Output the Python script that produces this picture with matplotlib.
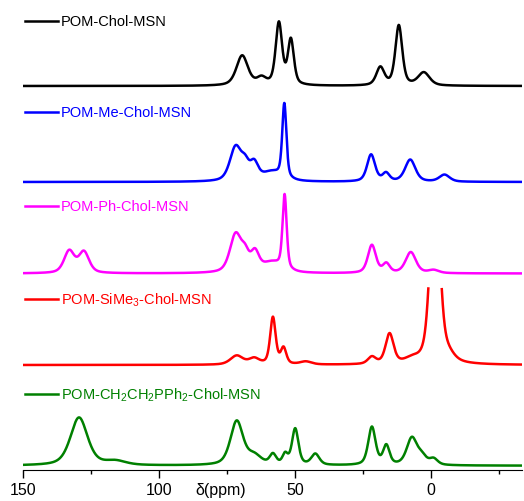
import numpy as np
import matplotlib
matplotlib.use("Agg")
import matplotlib.pyplot as plt

plt.rcParams['font.family'] = ['Liberation Sans', 'DejaVu Sans']
plt.rcParams['mathtext.fontset'] = 'custom'
plt.rcParams['mathtext.rm'] = 'Liberation Sans'
plt.rcParams['mathtext.it'] = 'Liberation Sans:italic'

# sample names (top to bottom)
names = ['POM-Chol-MSN',
         'POM-Me-Chol-MSN',
         'POM-Ph-Chol-MSN',
         'POM-SiMe$_3$-Chol-MSN',
         'POM-CH$_2$CH$_2$PPh$_2$-Chol-MSN']
colors = ['black', '#0000ff', '#ff00ff', '#ff0000', '#008000']

# peak lists: shift (ppm), height, width (ppm)
black_pos = [69.4, 62.3, 55.9, 51.5, 18.6, 11.8, 2.6]
black_h = [30, 7, 62, 45, 18, 60, 13]
black_w = [5.0, 4.0, 2.8, 2.6, 3.5, 3.0, 5.0]

blue_pos = [71.8, 68.3, 65.0, 58.5, 53.9, 22.0, 16.5, 7.6, -5.0]
blue_h = [34, 14, 16, 9, 74, 27, 8, 22, 7]
blue_w = [5.0, 3.5, 3.5, 9.0, 1.8, 3.5, 3.0, 4.5, 4.5]

pink_pos = [133.0, 127.6, 71.8, 68.3, 64.7, 58.5, 53.8, 21.7, 16.4, 7.4, -1.0]
pink_h = [22, 21, 38, 15, 18, 10, 74, 28, 9, 21, 3]
pink_w = [4.5, 4.5, 5.0, 3.5, 3.5, 9.0, 1.8, 3.5, 3.0, 4.5, 4.5]

red_pos = [71.4, 65.0, 58.1, 54.2, 46.0, 21.7, 15.2, 7.0, -1.5, -6.5]
red_h = [9, 6, 47, 16, 3, 7, 30, 4, 200, 6]
red_w = [5.5, 4.5, 2.4, 2.4, 5.0, 3.5, 3.5, 6.0, 4.0, 5.0]

green_pos = [129.4, 116.0, 71.4, 65.0, 58.1, 53.6, 49.9, 42.5, 21.7, 16.4, 7.0, 3.3, -1.0]
green_h = [48, 4, 44, 9, 10, 10, 36, 11, 38, 19, 27, 8, 6]
green_w = [7.5, 9.0, 5.5, 6.0, 2.8, 2.3, 2.8, 3.5, 3.2, 2.8, 4.5, 4.0, 3.5]

peaks = [(black_pos, black_h, black_w),
         (blue_pos, blue_h, blue_w),
         (pink_pos, pink_h, pink_w),
         (red_pos, red_h, red_w),
         (green_pos, green_h, green_w)]

# vertical stacking
offsets = [384, 288, 196.5, 105, 4.3]
label_y = [449, 358, 264, 171, 76]
clip_top = 183  # the tall SiMe3 peak is cut off


def spectrum(x, pos, h, w, eta=0.5):
    y = np.zeros_like(x)
    for p, a, fw in zip(pos, h, w):
        d = (x - p) / fw
        lor = 1.0 / (1.0 + 4 * d ** 2)
        gau = np.exp(-4 * np.log(2) * d ** 2)
        y += a * (eta * lor + (1 - eta) * gau)
    return y


ppm = np.linspace(150, -33.5, 3000)

fig = plt.figure(figsize=(5.24, 5.02), dpi=100)
ax = fig.add_axes([23 / 524, 31 / 502, 499 / 524, 471 / 502])

for i in range(len(names)):
    pos, h, w = peaks[i]
    y = offsets[i] + spectrum(ppm, pos, h, w)
    if i == 3:
        y = np.where(y > clip_top, np.nan, y)
    ax.plot(ppm, y, color=colors[i], lw=1.8)
    # little legend line + name
    ax.plot([149.3, 137.1], [label_y[i], label_y[i]], color=colors[i], lw=1.8)
    ax.text(136, label_y[i], names[i], color=colors[i], fontsize=10.5,
            va='center', ha='left')

ax.set_xlim(150, -33.5)
ax.set_ylim(0, 471)
for s in ['left', 'right', 'top']:
    ax.spines[s].set_visible(False)
ax.set_yticks([])
ax.set_xticks([150, 100, 50, 0])
ax.set_xticks([125, 75, 25, -25], minor=True)
ax.tick_params(axis='x', which='major', direction='out', length=6, width=1,
               labelsize=11.5, pad=3)
ax.tick_params(axis='x', which='minor', direction='out', length=3, width=1)
ax.text(77.2, -20, r'δ(ppm)', fontsize=11.5, ha='center', va='center')

fig.savefig('out.png', dpi=100)
